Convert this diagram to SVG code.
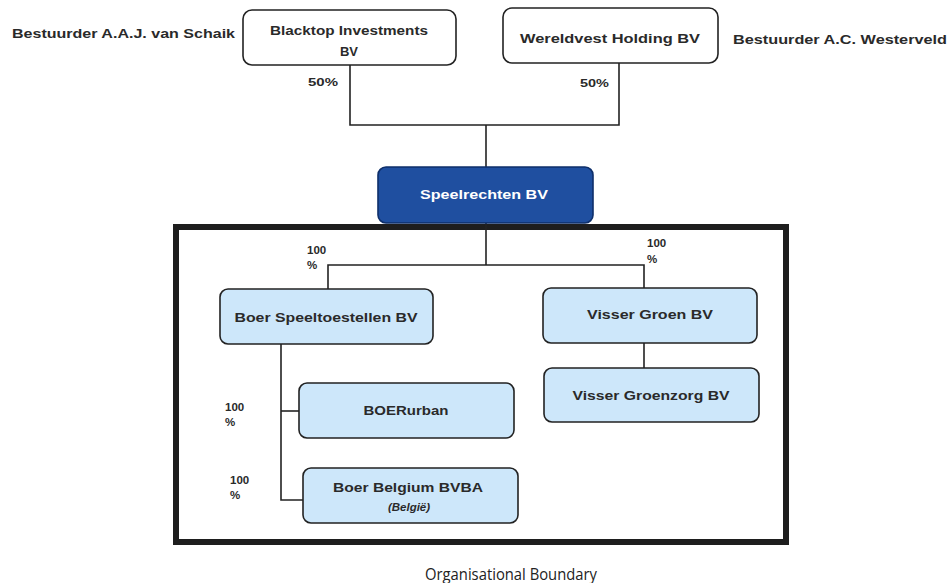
<svg xmlns="http://www.w3.org/2000/svg" width="949" height="583" viewBox="0 0 949 583">
<style>
text{font-family:"Liberation Sans",Arial,sans-serif;font-weight:bold;fill:#2a2a2a;dominant-baseline:central}
.c{text-anchor:middle}
.n{font-size:13px}
.s{font-size:11.5px}
.w{fill:#fff}
.box{fill:#fff;stroke:#222;stroke-width:1.6}
.lb{fill:#cde7fa;stroke:#222;stroke-width:1.6}
.db{fill:#1f4fa0;stroke:#0e2f6a;stroke-width:1.6}
.ln{fill:none;stroke:#222;stroke-width:1.6}
.foot{font-family:"Open Sans","Noto Sans",sans-serif;font-weight:normal;font-size:17px;fill:#222}
</style>
<rect width="949" height="583" fill="#fff"/>
<g id="boundary">
<rect x="176" y="227" width="610" height="315" fill="none" stroke="#1e1e1e" stroke-width="6"/>
<text class="foot c" x="511" y="573" textLength="172" lengthAdjust="spacingAndGlyphs">Organisational Boundary</text>
</g>
<g id="connectors">
<polyline class="ln" points="350,65 350,125 619,125 619,63"/>
<line class="ln" x1="486" y1="125" x2="486" y2="167"/>
<line class="ln" x1="486" y1="223" x2="486" y2="265"/>
<polyline class="ln" points="328,289 328,265 644,265 644,288"/>
<line class="ln" x1="644" y1="343" x2="644" y2="368"/>
<polyline class="ln" points="281,344 281,500 303,500"/>
<line class="ln" x1="281" y1="411" x2="299" y2="411"/>
</g>
<g id="labels">
<text class="n" x="12" y="33" textLength="223" lengthAdjust="spacingAndGlyphs">Bestuurder A.A.J. van Schaik</text>
<text class="n" x="733" y="39" textLength="214" lengthAdjust="spacingAndGlyphs">Bestuurder A.C. Westerveld</text>
<text class="s" x="308" y="82" textLength="30" lengthAdjust="spacingAndGlyphs">50%</text>
<text class="s" x="580" y="83" textLength="29" lengthAdjust="spacingAndGlyphs">50%</text>
<text class="s" x="307" y="250">100</text>
<text class="s" x="307" y="265">%</text>
<text class="s" x="647" y="243">100</text>
<text class="s" x="647" y="259">%</text>
<text class="s" x="225" y="407">100</text>
<text class="s" x="225" y="422">%</text>
<text class="s" x="230" y="480">100</text>
<text class="s" x="230" y="495">%</text>
</g>
<g id="blacktop">
<rect class="box" x="243" y="10" width="213" height="55" rx="9"/>
<text class="n c" x="349" y="30" textLength="158" lengthAdjust="spacingAndGlyphs">Blacktop Investments</text>
<text class="n c" x="349" y="51">BV</text>
</g>
<g id="wereldvest">
<rect class="box" x="503" y="8" width="215" height="55" rx="9"/>
<text class="n c" x="610" y="38" textLength="180" lengthAdjust="spacingAndGlyphs">Wereldvest Holding BV</text>
</g>
<g id="speelrechten">
<rect class="db" x="378" y="167" width="215" height="56" rx="8"/>
<text class="n c w" x="484" y="194" textLength="128" lengthAdjust="spacingAndGlyphs">Speelrechten BV</text>
</g>
<g id="boer">
<rect class="lb" x="220" y="289" width="213" height="55" rx="8"/>
<text class="n c" x="326" y="317" textLength="183" lengthAdjust="spacingAndGlyphs">Boer Speeltoestellen BV</text>
</g>
<g id="visser-groen">
<rect class="lb" x="543" y="288" width="214" height="55" rx="8"/>
<text class="n c" x="650" y="314" textLength="126" lengthAdjust="spacingAndGlyphs">Visser Groen BV</text>
</g>
<g id="visser-groenzorg">
<rect class="lb" x="544" y="368" width="215" height="54" rx="8"/>
<text class="n c" x="651" y="395" textLength="157" lengthAdjust="spacingAndGlyphs">Visser Groenzorg BV</text>
</g>
<g id="boerurban">
<rect class="lb" x="299" y="383" width="215" height="55" rx="8"/>
<text class="n c" x="406" y="410" textLength="85" lengthAdjust="spacingAndGlyphs">BOERurban</text>
</g>
<g id="boer-belgium">
<rect class="lb" x="303" y="468" width="215" height="55" rx="8"/>
<text class="n c" x="408" y="487" textLength="150" lengthAdjust="spacingAndGlyphs">Boer Belgium BVBA</text>
<text class="s c" x="409" y="507" font-style="italic">(België)</text>
</g>
</svg>
